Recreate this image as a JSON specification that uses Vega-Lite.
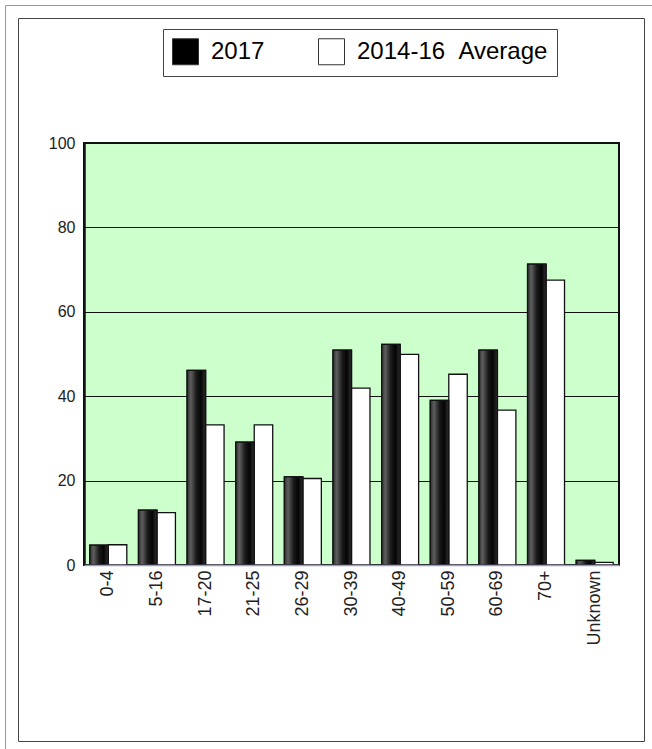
{
  "$schema": "https://vega.github.io/schema/vega-lite/v6.json",
  "autosize": {"type": "none"},
  "padding": {"left": 84, "top": 143, "right": 33, "bottom": 184},
  "width": 535,
  "height": 422,
  "background": "white",
  "config": {
    "view": {"fill": "#ccffcc", "stroke": "#111", "strokeWidth": 2},
    "font": "Liberation Sans"
  },
  "data": {
    "values": [
      {"age": "0-4", "series": "2017", "value": 4.7},
      {"age": "0-4", "series": "2014-16 Average", "value": 4.8},
      {"age": "5-16", "series": "2017", "value": 13.0},
      {"age": "5-16", "series": "2014-16 Average", "value": 12.4},
      {"age": "17-20", "series": "2017", "value": 46.1},
      {"age": "17-20", "series": "2014-16 Average", "value": 33.2},
      {"age": "21-25", "series": "2017", "value": 29.1},
      {"age": "21-25", "series": "2014-16 Average", "value": 33.2},
      {"age": "26-29", "series": "2017", "value": 20.9},
      {"age": "26-29", "series": "2014-16 Average", "value": 20.5},
      {"age": "30-39", "series": "2017", "value": 50.9},
      {"age": "30-39", "series": "2014-16 Average", "value": 41.9},
      {"age": "40-49", "series": "2017", "value": 52.3},
      {"age": "40-49", "series": "2014-16 Average", "value": 49.9},
      {"age": "50-59", "series": "2017", "value": 39.0},
      {"age": "50-59", "series": "2014-16 Average", "value": 45.2},
      {"age": "60-69", "series": "2017", "value": 50.9},
      {"age": "60-69", "series": "2014-16 Average", "value": 36.7},
      {"age": "70+", "series": "2017", "value": 71.3},
      {"age": "70+", "series": "2014-16 Average", "value": 67.5},
      {"age": "Unknown", "series": "2017", "value": 1.1},
      {"age": "Unknown", "series": "2014-16 Average", "value": 0.6}
    ]
  },
  "encoding": {
    "x": {
      "field": "age",
      "type": "nominal",
      "sort": null,
      "scale": {"paddingInner": 0.24, "paddingOuter": 0.12},
      "axis": {
        "title": null,
        "labelAngle": -90,
        "labelFontSize": 18,
        "labelColor": "#222",
        "labelPadding": 5,
        "ticks": false,
        "domainColor": "#9a9acc",
        "domainWidth": 1.5,
        "zindex": 1
      }
    },
    "xOffset": {
      "field": "series",
      "type": "nominal",
      "scale": {"domain": ["2017", "2014-16 Average"], "paddingInner": 0, "paddingOuter": 0}
    },
    "y": {
      "field": "value",
      "type": "quantitative",
      "scale": {"domain": [0, 100], "nice": false},
      "axis": {
        "title": null,
        "values": [0, 20, 40, 60, 80, 100],
        "labelFontSize": 16,
        "labelColor": "#222",
        "labelPadding": 9,
        "ticks": false,
        "domainColor": "#111",
        "domainWidth": 2.5,
        "gridColor": "#111",
        "gridWidth": 1.2,
        "gridOpacity": 1
      }
    }
  },
  "layer": [
    {
      "mark": {"type": "bar", "stroke": "#111", "strokeWidth": 1.3},
      "encoding": {
        "color": {
          "field": "series",
          "type": "nominal",
          "scale": {"domain": ["2017", "2014-16 Average"], "range": ["#000000", "#ffffff"]},
          "legend": {
            "title": null,
            "orient": "none",
            "legendX": 79,
            "legendY": -114,
            "direction": "horizontal",
            "symbolType": "square",
            "symbolSize": 676,
            "symbolStrokeColor": "#333",
            "symbolStrokeWidth": 1,
            "symbolOpacity": 1,
            "labelFontSize": 24,
            "labelLimit": 400,
            "labelColor": "#000",
            "labelOffset": 12,
            "columnPadding": 51,
            "padding": 9,
            "strokeColor": "#444",
            "fillColor": "#fff",
            "labelExpr": "datum.label == '2014-16 Average' ? '2014-16\u00a0\u00a0Average' : datum.label"
          }
        }
      }
    },
    {
      "transform": [{"filter": "datum.series == '2017'"}],
      "mark": {
        "type": "bar",
        "stroke": "#111",
        "strokeWidth": 1.3,
        "fill": {
          "gradient": "linear",
          "x1": 0, "y1": 0, "x2": 1, "y2": 0,
          "stops": [
            {"offset": 0, "color": "#2e2e2e"},
            {"offset": 0.2, "color": "#5e5e5e"},
            {"offset": 0.5, "color": "#1a1a1a"},
            {"offset": 0.75, "color": "#050505"},
            {"offset": 1, "color": "#303030"}
          ]
        }
      }
    },
    {
      "mark": {"type": "point", "opacity": 0},
      "encoding": {
        "x": {"field": "age", "type": "nominal", "sort": null},
        "y": {"field": "value", "type": "quantitative"},
        "stroke": {
          "field": "value",
          "type": "quantitative",
          "scale": {"range": ["#ffffff", "#ffffff"]},
          "legend": {
            "type": "gradient",
            "title": null,
            "orient": "none",
            "legendX": -66,
            "legendY": -125,
            "direction": "vertical",
            "gradientLength": 723,
            "gradientThickness": 626,
            "gradientOpacity": 0,
            "gradientStrokeWidth": 0,
            "labelExpr": "''",
            "labelFontSize": 0,
            "labelOffset": 0,
            "labelOpacity": 0,
            "padding": 0,
            "strokeColor": "#444"
          }
        }
      }
    },
    {
      "mark": {"type": "point", "opacity": 0},
      "encoding": {
        "x": {"field": "age", "type": "nominal", "sort": null},
        "y": {"field": "value", "type": "quantitative"},
        "fill": {
          "field": "value",
          "type": "quantitative",
          "scale": {"range": ["#ffffff", "#ffffff"]},
          "legend": {
            "type": "gradient",
            "title": null,
            "orient": "none",
            "legendX": -79,
            "legendY": -138,
            "direction": "vertical",
            "gradientLength": 800,
            "gradientThickness": 700,
            "gradientOpacity": 0,
            "gradientStrokeWidth": 0,
            "labelExpr": "''",
            "labelFontSize": 0,
            "labelOffset": 0,
            "labelOpacity": 0,
            "padding": 0,
            "strokeColor": "#999"
          }
        }
      }
    }
  ]
}
